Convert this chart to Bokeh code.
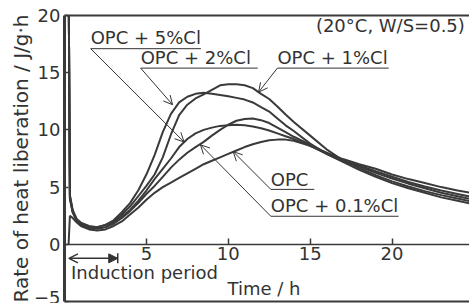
from bokeh.plotting import figure
from bokeh.models import (LinearAxis, FixedTicker, Range1d, Arrow, OpenHead,
                          NormalHead, TeeHead, Label)
from bokeh.embed import file_html
from bokeh.resources import INLINE

# ---------------- data ----------------
time_h = [0.25, 0.33, 0.5, 0.75, 1, 1.5, 2, 2.5, 3, 3.5, 4, 4.5, 5,
          5.5, 6, 6.5, 7, 7.5, 8, 8.5, 9, 9.5, 10, 10.5, 11, 11.5, 12, 12.5, 13, 13.5, 14,
          15, 16, 17, 18, 19, 20, 21, 22, 23, 24, 25]

opc_2cl = [24, 4.0, 2.8, 2.1, 1.8, 1.5, 1.5, 1.7, 2.1, 2.8, 3.6, 4.7, 6.1,
           7.8, 9.8, 11.4, 12.4, 12.9, 13.15, 13.25, 13.15, 13.05, 12.95, 12.8, 12.65, 12.4,
           12.0, 11.6, 11.0, 10.4, 9.9,
           8.8, 7.9, 7.2, 6.5, 5.9, 5.35, 4.9, 4.5, 4.1, 3.8, 3.5]

opc_1cl = [24, 4.3, 3.0, 2.2, 1.9, 1.6, 1.5, 1.7, 2.0, 2.6, 3.3, 4.2, 5.1,
           6.1, 7.6, 9.6, 11.3, 12.2, 12.75, 13.1, 13.5, 13.9, 14.0, 14.0, 13.9, 13.65,
           13.15, 12.7, 12.05, 11.35, 10.7,
           9.5, 8.3, 7.35, 6.65, 6.05, 5.5, 5.05, 4.65, 4.3, 4.0, 3.7]

opc_5cl = [24, 4.2, 2.9, 2.1, 1.8, 1.5, 1.4, 1.5, 1.9, 2.4, 3.0, 3.8, 4.7,
           5.7, 6.6, 7.5, 8.5, 9.2, 9.7, 10.0, 10.2, 10.35, 10.4, 10.45, 10.4, 10.3,
           10.15, 9.95, 9.7, 9.45, 9.2,
           8.6, 7.9, 7.25, 6.8, 6.25, 5.75, 5.3, 4.9, 4.5, 4.2, 3.9]

opc_01cl = [24, 4.0, 2.8, 2.0, 1.7, 1.4, 1.35, 1.5, 1.8, 2.3, 2.9, 3.6, 4.4,
            5.1, 5.9, 6.7, 7.4, 8.0, 8.5, 8.95, 9.5, 10.0, 10.45, 10.8, 10.95, 11.0,
            10.85, 10.6, 10.2, 9.8, 9.4,
            8.7, 8.0, 7.3, 6.9, 6.4, 5.9, 5.45, 5.05, 4.7, 4.4, 4.1]

opc = [0.0, 2.5, 2.3, 1.9, 1.6, 1.3, 1.2, 1.3, 1.6, 2.0, 2.6, 3.2, 3.9,
       4.5, 5.0, 5.4, 5.8, 6.2, 6.6, 7.0, 7.3, 7.6, 7.9, 8.2, 8.5, 8.75,
       8.95, 9.1, 9.15, 9.15, 9.05,
       8.6, 8.0, 7.45, 7.0, 6.6, 6.1, 5.7, 5.35, 5.0, 4.7, 4.45]

x_ticks = [5, 10, 15, 20, 25]
y_ticks = [-5, 0, 5, 10, 15, 20]

series_names = ["OPC + 5%Cl", "OPC + 2%Cl", "OPC + 1%Cl", "OPC", "OPC + 0.1%Cl"]
series_values = [opc_5cl, opc_2cl, opc_1cl, opc, opc_01cl]

# ---------------- style ----------------
FONT = "DejaVu Sans"
INK = "#333333"
LINE = "#3a3a3a"
TXT_SHIFT = 0.6   # compensates the drawn baseline offset of Label text

p = figure(width=469, height=303, output_backend="svg", toolbar_location=None,
           x_range=Range1d(0, 24.73), y_range=Range1d(-5, 20),
           x_axis_type=None, y_axis_type=None,
           min_border_left=64, min_border_right=0, min_border_top=15,
           min_border_bottom=2)
p.outline_line_color = None
p.background_fill_color = "white"
p.border_fill_color = "white"

# y axis (left frame)
yaxis = LinearAxis(ticker=FixedTicker(ticks=y_ticks),
                   axis_label="Rate of heat liberation / J/g·h")
yaxis.axis_line_width = 3
yaxis.axis_line_color = LINE
yaxis.major_tick_in = 4
yaxis.major_tick_out = 0
yaxis.major_tick_line_color = LINE
yaxis.major_tick_line_width = 1.5
yaxis.minor_tick_in = 0
yaxis.minor_tick_out = 0
yaxis.major_label_text_font = FONT
yaxis.major_label_text_font_size = "18px"
yaxis.major_label_text_color = INK
yaxis.major_label_standoff = 4
yaxis.axis_label_text_font = FONT
yaxis.axis_label_text_font_size = "20px"
yaxis.axis_label_text_font_style = "normal"
yaxis.axis_label_text_color = INK
yaxis.axis_label_standoff = -2
p.add_layout(yaxis, "left")

# x axis at y = 0
xaxis = LinearAxis(ticker=FixedTicker(ticks=x_ticks), fixed_location=0)
xaxis.axis_line_width = 1.5
xaxis.axis_line_color = LINE
xaxis.major_tick_in = 6
xaxis.major_tick_out = 0
xaxis.major_tick_line_color = LINE
xaxis.major_tick_line_width = 1.5
xaxis.minor_tick_in = 0
xaxis.minor_tick_out = 0
xaxis.major_label_text_font = FONT
xaxis.major_label_text_font_size = "18px"
xaxis.major_label_text_color = INK
xaxis.major_label_standoff = 3
p.add_layout(xaxis, "below")

# frame lines top / bottom
for side in ("above", "below"):
    fa = LinearAxis(ticker=FixedTicker(ticks=[]))
    fa.axis_line_width = 2
    fa.axis_line_color = LINE
    fa.major_tick_in = 0
    fa.major_tick_out = 0
    fa.minor_tick_in = 0
    fa.minor_tick_out = 0
    fa.major_label_standoff = 0
    fa.major_label_text_font_size = "0px"
    p.add_layout(fa, side)

# curves
for vals in series_values:
    p.line(time_h, vals, line_color=LINE, line_width=2)


def label(x, y, text, size="18px"):
    p.add_layout(Label(x=x, y=y + TXT_SHIFT, text=text, text_font=FONT,
                       text_font_size=size, text_color=INK,
                       text_baseline="alphabetic"))


def seg(x0, y0, x1, y1, head=False):
    end = OpenHead(size=9, line_width=1, line_color=INK) if head else None
    p.add_layout(Arrow(x_start=x0, y_start=y0, x_end=x1, y_end=y1, end=end,
                       line_width=1, line_color=INK))


# curve labels: (text, text x, baseline y, underline y, underline end x, arrow tip)
annotations = [
    ("OPC + 5%Cl", 1.6, 17.45, 17.1, 8.33, (7.3, 8.95)),
    ("OPC + 2%Cl", 4.65, 15.7, 15.4, 11.8, (6.6, 12.2)),
    ("OPC + 1%Cl", 13.0, 15.7, 15.4, 19.8, (11.85, 13.3)),
    ("OPC", 12.6, 5.1, 4.8, 15.25, (10.3, 8.1)),
    ("OPC + 0.1%Cl", 12.6, 2.75, 2.45, 20.4, (8.3, 8.7)),
]
for text, tx, ty, uy, ux, tip in annotations:
    label(tx, ty, text)
    seg(tx, uy, ux, uy)
    seg(tx, uy, tip[0], tip[1], head=True)

label(15.35, 18.55, "(20°C, W/S=0.5)")

# induction period arrow
ind_start, ind_end, ind_y = 0.27, 3.25, -1.23
p.add_layout(Arrow(x_start=ind_start, y_start=ind_y, x_end=ind_end, y_end=ind_y,
                   start=OpenHead(size=9, line_width=1.5, line_color=INK),
                   end=NormalHead(size=9, line_color=INK, fill_color=INK),
                   line_width=1.5, line_color=INK))
p.add_layout(Arrow(x_start=ind_end - 0.5, y_start=ind_y, x_end=ind_end, y_end=ind_y,
                   start=None, end=TeeHead(size=10, line_width=1.5, line_color=INK),
                   line_width=1.5, line_color=INK))
label(0.4, -3.05, "Induction period")
label(9.95, -4.45, "Time / h")

open("out.html", "w").write(file_html(p, INLINE))
